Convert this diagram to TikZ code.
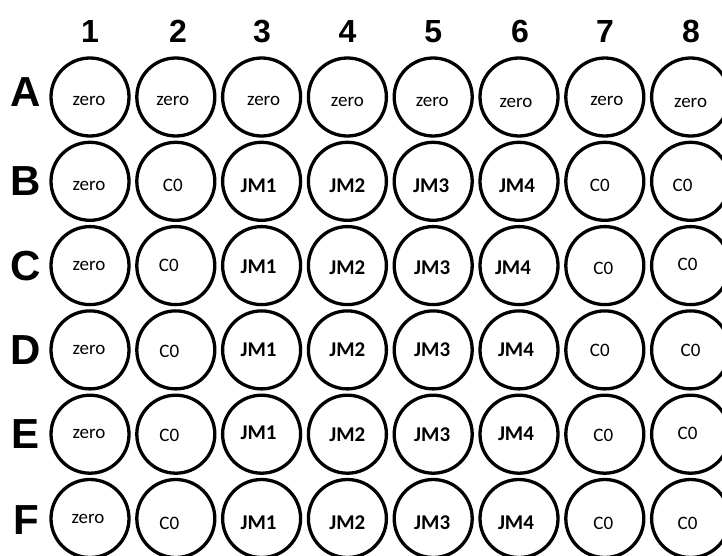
\documentclass[tikz,border=0pt]{standalone}
\usepackage{fontspec}
\setmainfont{Carlito}
\newfontfamily\headfont{Liberation Sans}
\usetikzlibrary{positioning}
\tikzset{
  well/.style={circle,draw=black,line width=3.3pt,minimum size=78pt,inner sep=0pt},
  welltext/.style={font=\fontsize{19}{19}\selectfont,inner sep=0pt},
  wellbold/.style={font=\fontsize{21}{21}\selectfont\bfseries,inner sep=0pt},
  colhead/.style={font=\headfont\bfseries\fontsize{32}{32}\selectfont,inner sep=0pt},
  rowhead/.style={font=\headfont\bfseries\fontsize{42}{42}\selectfont,inner sep=0pt},
}

\begin{document}
\begin{tikzpicture}[x=1pt,y=-1pt]
  \clip (0,0) rectangle (722,556);
  % column numbers and row letters
  \foreach \n/\x in {1/90,2/178,3/262,4/347.4,5/433.2,6/520,7/605,8/691}
    \node[colhead] (col\n) at (\x,31.5) {\n};
  \foreach \r/\y in {A/92,B/181.3,C/265.6,D/349.9,E/434.2,F/520}
    \node[rowhead] (row\r) at (26,\y) {\r};

  % wells
  \foreach \r/\y in {A/97,B/181.3,C/265.6,D/349.9,E/434.2,F/518.5}
    \foreach \c/\x in {1/90,2/175.8,3/261.6,4/347.4,5/433.2,6/519,7/604.8,8/690.6}
      \node[well] (\r\c) at (\x,\y) {};

  % contents
  \foreach \c/\s/\t/\dx/\dy in {1/welltext/zero/-1/4,2/welltext/zero/-3/4,3/welltext/zero/2/4,
      4/welltext/zero/0/5,5/welltext/zero/-1/5,6/welltext/zero/-3/6,7/welltext/zero/2/4,8/welltext/zero/0/6}
    \node[\s,xshift=\dx pt,yshift=-\dy pt] (A\c-t) at (A\c) {\t};
  \foreach \c/\s/\t/\dx/\dy in {1/welltext/zero/-1/5,2/welltext/C0/-3/4,3/wellbold/JM1/-3/4,
      4/wellbold/JM2/0/4,5/wellbold/JM3/-2/4,6/wellbold/JM4/-2/4,7/welltext/C0/-5/4,8/welltext/C0/-8/4}
    \node[\s,xshift=\dx pt,yshift=-\dy pt] (B\c-t) at (B\c) {\t};
  \foreach \c/\s/\t/\dx/\dy in {1/welltext/zero/-1/0,2/welltext/C0/-7/0,3/wellbold/JM1/-3/1.5,
      4/wellbold/JM2/0/2,5/wellbold/JM3/-1/2,6/wellbold/JM4/-6/2,7/welltext/C0/-1.5/3,8/welltext/C0/-3/-1.5}
    \node[\s,xshift=\dx pt,yshift=-\dy pt] (C\c-t) at (C\c) {\t};
  \foreach \c/\s/\t/\dx/\dy in {1/welltext/zero/-1/0,2/welltext/C0/-6.5/1,3/wellbold/JM1/-3/0,
      4/wellbold/JM2/0/0,5/wellbold/JM3/-1/0,6/wellbold/JM4/-3/0,7/welltext/C0/-5/0,8/welltext/C0/0/0}
    \node[\s,xshift=\dx pt,yshift=-\dy pt] (D\c-t) at (D\c) {\t};
  \foreach \c/\s/\t/\dx/\dy in {1/welltext/zero/-1/0,2/welltext/C0/-6.5/1,3/wellbold/JM1/-3/-1,
      4/wellbold/JM2/0/0,5/wellbold/JM3/-1/0,6/wellbold/JM4/-3/0,7/welltext/C0/-1.5/1,8/welltext/C0/-3/-1}
    \node[\s,xshift=\dx pt,yshift=-\dy pt] (E\c-t) at (E\c) {\t};
  \foreach \c/\s/\t/\dx/\dy in {1/welltext/zero/-2/0,2/welltext/C0/-6.5/5,3/wellbold/JM1/-3/4,
      4/wellbold/JM2/0/4.5,5/wellbold/JM3/-1/4.5,6/wellbold/JM4/-3/4.5,7/welltext/C0/-1.5/5,8/welltext/C0/-3/5}
    \node[\s,xshift=\dx pt,yshift=-\dy pt] (F\c-t) at (F\c) {\t};
\end{tikzpicture}
\end{document}
